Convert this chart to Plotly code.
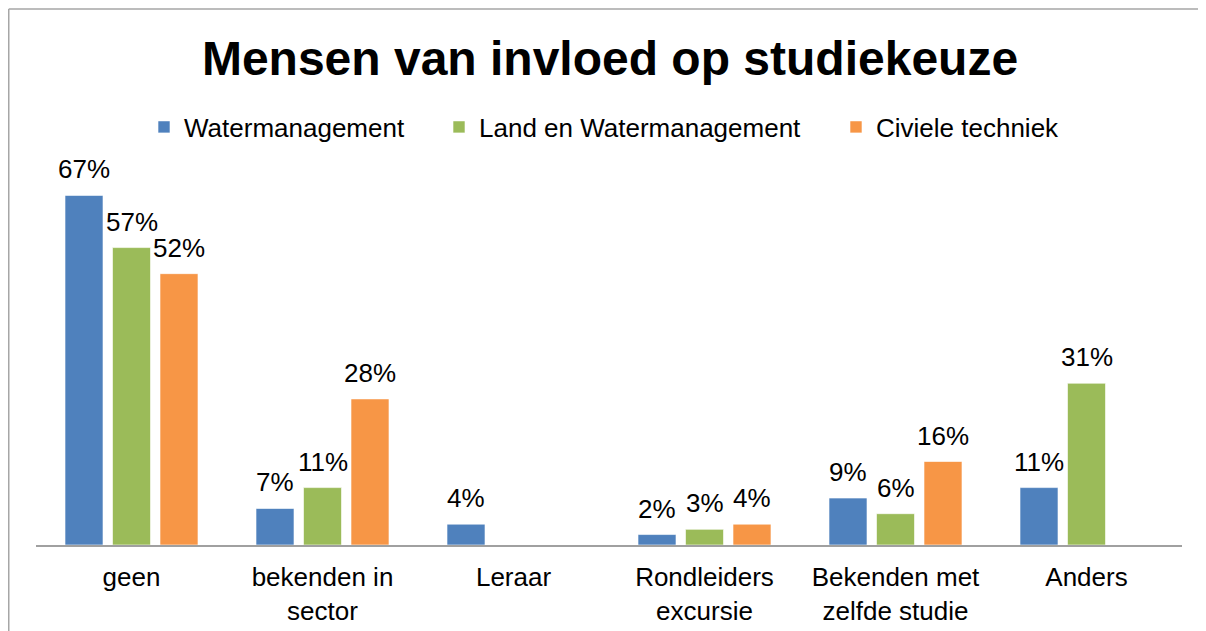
import plotly.graph_objects as go

# ---- data ----
categories = ["geen", "bekenden in<br>sector", "Leraar", "Rondleiders<br>excursie",
              "Bekenden met<br>zelfde studie", "Anders"]
series_names = ["Watermanagement", "Land en Watermanagement", "Civiele techniek"]
watermanagement = [67, 7, 4, 2, 9, 11]
land_en_watermanagement = [57, 11, None, 3, 6, 31]
civiele_techniek = [52, 28, None, 4, 16, None]
colors = ["#4F81BD", "#9BBB59", "#F79646"]
title_text = "Mensen van invloed op studiekeuze"

series_values = [watermanagement, land_en_watermanagement, civiele_techniek]

# ---- layout geometry (page pixels; the page body adds an 8px offset) ----
PAGE_W, PAGE_H = 1206, 631
OFF = 8
W, H = PAGE_W - OFF, PAGE_H - OFF
plot_left, plot_right, plot_top, plot_bottom = 36, 1182, 150, 545  # page px
m_l = plot_left - OFF
m_r = W - (plot_right - OFF)
m_t = plot_top - OFF
m_b = H - (plot_bottom - OFF)
y_max = 75.7
bargap = 0.254
bargroupgap = 0.2
FONT = "Liberation Sans, Arial, sans-serif"

plot_w = W - m_l - m_r
plot_h = H - m_t - m_b
cat_w = plot_w / len(categories)
slot_px = cat_w * (1 - bargap) / 3

legend_ids = ["legend", "legend2", "legend3"]
legend_left_page = [144, 439, 836]
legend_center_y_page = 127

fig = go.Figure()
for i, (name, vals, col) in enumerate(zip(series_names, series_values, colors)):
    fig.add_trace(go.Bar(
        x=categories, y=vals, name=name,
        marker=dict(color=col, line=dict(color="rgba(255,255,255,0.6)", width=1)),
        legend=legend_ids[i],
        hoverinfo="skip",
    ))

annotations = []
for i, vals in enumerate(series_values):
    for cat, v in zip(categories, vals):
        if v is None:
            continue
        annotations.append(dict(
            x=cat, y=v, xref="x", yref="y", text=f"{v}%", showarrow=False,
            xshift=(i - 1) * slot_px, yanchor="bottom", yshift=9,
            font=dict(family=FONT, size=26, color="#000000"),
        ))


def fx(px_page):
    return (px_page - OFF - m_l) / plot_w


def fy(py_page):
    return (H - m_b - (py_page - OFF)) / plot_h


border_x = OFF + 0.75
border_y = 9
shapes = [
    dict(type="line", xref="paper", yref="paper",
         x0=fx(border_x), x1=fx(border_x), y0=fy(border_y), y1=fy(PAGE_H + 5),
         line=dict(color="#A6A6A6", width=1.5)),
    dict(type="line", xref="paper", yref="paper",
         x0=fx(border_x), x1=fx(PAGE_W + 20), y0=fy(border_y), y1=fy(border_y),
         line=dict(color="#A6A6A6", width=1.5)),
]

layout_legends = {}
for lid, left in zip(legend_ids, legend_left_page):
    layout_legends[lid] = dict(
        xref="container", yref="container",
        x=(left - OFF) / W, y=1 - (legend_center_y_page - OFF) / H,
        xanchor="left", yanchor="middle",
        orientation="h", bgcolor="rgba(0,0,0,0)", borderwidth=0,
        font=dict(family=FONT, size=26, color="#000000"),
    )

fig.update_layout(
    width=W, height=H,
    margin=dict(l=m_l, r=m_r, t=m_t, b=m_b, autoexpand=False),
    paper_bgcolor="white", plot_bgcolor="white",
    barmode="group", bargap=bargap, bargroupgap=bargroupgap,
    title=dict(text=f"<b>{title_text}</b>", x=(610 - OFF) / W, xanchor="center",
               y=1 - (58 - OFF) / H, yanchor="middle", xref="container", yref="container",
               font=dict(family=FONT, size=48, color="#000000")),
    xaxis=dict(showline=True, linecolor="#A0A0A0", linewidth=1.5,
               showgrid=False, zeroline=False, ticks="", automargin=False,
               ticklabelstandoff=8,
               tickfont=dict(family=FONT, size=26, color="#000000")),
    yaxis=dict(range=[0, y_max], visible=False, showgrid=False, zeroline=False),
    showlegend=True,
    annotations=annotations,
    shapes=shapes,
    **layout_legends,
)

fig.write_html("out.html")
